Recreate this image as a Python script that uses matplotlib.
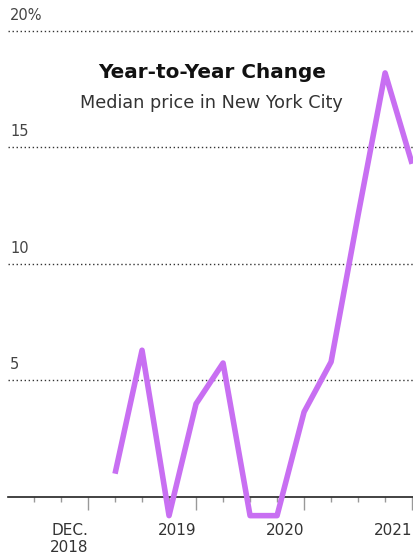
import matplotlib.pyplot as plt
import numpy as np

# quarters counted from Dec. 2018 (0) ; values in percent
quarters = [1, 2, 3, 4, 5, 6, 7, 8, 9, 10, 11, 12]
change = [1.0, 6.3, -0.8, 4.0, 5.75, -0.8, -0.8, 3.65, 5.8, 12.1, 18.2, 14.3]

grid_vals = [5, 10, 15, 20]
grid_labels = ['5', '10', '15', '20%']

year_ticks = [0, 4, 8, 12]
year_labels = ['DEC.\n2018', '2019', '2020', '2021']
minor_ticks = [-2, -1, 1, 2, 3, 5, 6, 7, 9, 10, 11]

fig = plt.figure(figsize=(4.14, 5.54), dpi=100)
ax = fig.add_axes([8/414, 34/554, 406/414, 520/554])

ax.plot(quarters, change, color='#c86ff2', linewidth=4,
        solid_joinstyle='round', solid_capstyle='butt', zorder=3)

for v, lab in zip(grid_vals, grid_labels):
    ax.axhline(v, color='#333333', linewidth=1, linestyle=(0, (1, 1.9)), zorder=1)
    ax.text(0.005, v + 0.35, lab, transform=ax.get_yaxis_transform(),
            fontsize=10.5, color='#444444', ha='left', va='bottom')

ax.set_xlim(-2.963, 12.07)
ax.set_ylim(-0.987, 21.33)

for s in ['top', 'right', 'left']:
    ax.spines[s].set_visible(False)
ax.spines['bottom'].set_position(('data', 0))
ax.spines['bottom'].set_color('#222222')
ax.spines['bottom'].set_linewidth(1.2)
ax.set_yticks([])

ax.set_xticks(year_ticks)
ax.set_xticklabels(year_labels, ha='right', fontsize=11, color='#333333')
ax.set_xticks(minor_ticks, minor=True)
ax.tick_params(axis='x', which='major', length=9.4, width=1, color='#999999', pad=9)
ax.tick_params(axis='x', which='minor', length=3.6, width=1, color='#999999')

fig.text(212/414, 1 - 73/554, 'Year-to-Year Change', ha='center', va='center',
         fontsize=14.4, fontweight='bold', color='#111111', family='DejaVu Sans')
fig.text(211/414, 1 - 103/554, 'Median price in New York City', ha='center', va='center',
         fontsize=12.7, color='#333333', family='DejaVu Sans')

fig.savefig('out.png', dpi=100)
